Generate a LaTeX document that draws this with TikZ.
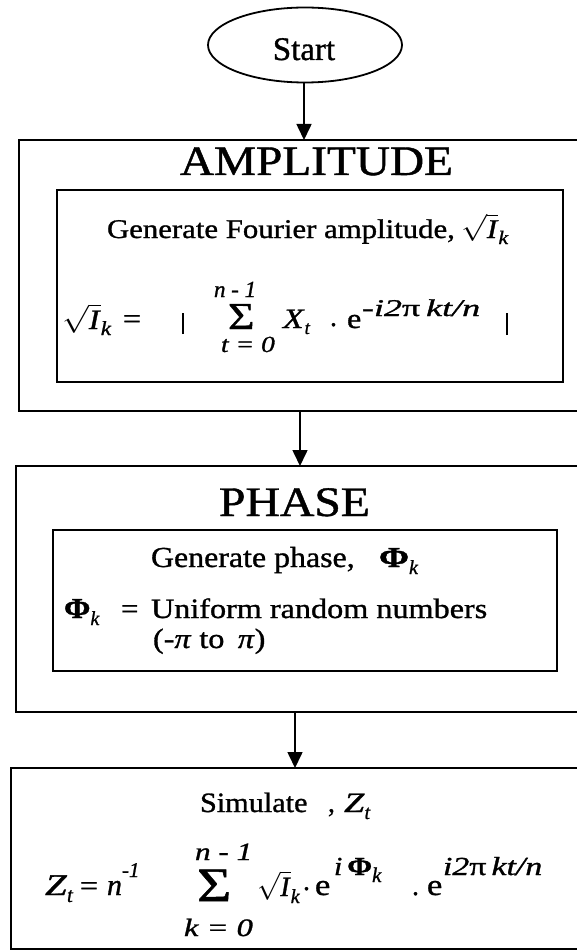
\RequirePackage{fix-cm}
\documentclass[tikz,border=0pt]{standalone}
\usepackage{fontspec}
\setmainfont{Liberation Serif}[FakeBold=1]
\usetikzlibrary{arrows.meta,shapes.geometric}
\newcommand{\fs}[1]{\fontsize{#1}{#1}\selectfont}
\newcommand{\xs}[2]{\scalebox{#1}[1]{#2}}
\newcommand{\rootI}[2]{$\sqrt{\hbox{\textit{I}}}$\raisebox{-#2}{\fs{#1}\textit{k}}}
\newcommand{\SIG}{\symbol{"03A3}}
\begin{document}
\begin{tikzpicture}[x=1pt,y=-1pt,
  frame/.style={draw, line width=1.8pt, rectangle, inner sep=0pt, outer sep=0pt},
  oval/.style={draw, line width=1.8pt, ellipse, inner sep=0pt, outer sep=0pt},
  arr/.style={line width=1.6pt, -{Triangle[length=16pt,width=15pt]}},
  txt/.style={anchor=base west, inner sep=0pt, outer sep=0pt}]
\useasboundingbox (0,0) rectangle (577,952);
\fill[white] (0,0) rectangle (577,952);
\clip (0,0) rectangle (577,952);

% start
\node[oval, minimum width=194pt, minimum height=75pt] (start) at (305,45) {};
\node[txt, anchor=base] (starttxt) at (304,60) {\fs{33}Start};

% boxes
\node[frame, minimum width=601pt, minimum height=271pt] (ampout) at (319.5,275.5) {};
\node[frame, minimum width=506pt, minimum height=192pt] (ampin) at (310,286) {};
\node[frame, minimum width=604pt, minimum height=246pt] (phaseout) at (318,589) {};
\node[frame, minimum width=504pt, minimum height=141pt] (phasein) at (305,600.5) {};
\node[frame, minimum width=609pt, minimum height=181pt] (simout) at (315.5,858.5) {};

% connectors
\coordinate (c1) at (304,0);
\coordinate (c2) at (300,0);
\coordinate (c3) at (295,0);
\draw[arr] (c1 |- start.south) -- (c1 |- ampout.north);
\draw[arr] (c2 |- ampout.south) -- (c2 |- phaseout.north);
\draw[arr] (c3 |- phaseout.south) -- (c3 |- simout.north);

% amplitude
\node[txt] (amptitle) at (180,175) {\fs{42}\xs{1.125}{AMPLITUDE}};
\node[txt] (genamp) at (107,238) {\fs{27}\xs{1.14}{Generate Fourier amplitude,}};
\node[txt] (genampI) at (461,238) {\fs{27}\xs{1.15}{\rootI{19}{6pt}}};

\node[txt] (f1lhs) at (62,329) {\fs{28}\xs{1.15}{\rootI{20}{6pt}}};
\node[txt] (f1eq) at (123,328) {\fs{28}\xs{1.15}{=}};
\node[txt] (f1bl) at (182,334) {\rule{1.7pt}{21pt}};
\node[txt] (f1sum) at (228,329) {\fs{38}\xs{1.2}{\SIG}};
\node[txt] (f1up) at (214,297) {\fs{23}\textit{n - 1}};
\node[txt] (f1lo) at (221,352) {\fs{23}\xs{1.2}{\textit{t = 0}}};
\node[txt] (f1X) at (283,328) {\fs{28}\xs{1.2}{\textit{X}}\raisebox{-6pt}{\fs{19}\textit{t}}};
\node[txt] (f1dot) at (330,326) {\fs{28}.};
\node[txt] (f1e) at (347,328) {\fs{28}\xs{1.15}{e}};
\node[txt] (f1sup) at (362,316) {\fs{24}\xs{1.5}{-\textit{i2}π\hspace{4pt}\textit{kt/n}}};
\node[txt] (f1br) at (506,335) {\rule{1.7pt}{22pt}};

% phase
\node[txt] (phtitle) at (219,516) {\fs{42}\xs{1.135}{PHASE}};
\node[txt] (genph) at (151,567) {\fs{29}\xs{1.1}{Generate phase,}};
\node[txt] (genphi) at (379,567) {\fs{29}\xs{1.25}{\textbf{Φ}}\raisebox{-7pt}{\fs{20}\textit{k}}};
\node[txt] (phphi) at (64,618) {\fs{29}\xs{1.1}{\textbf{Φ}}\raisebox{-7pt}{\fs{20}\textit{k}}};
\node[txt] (pheq) at (121,618) {\fs{28}\xs{1.1}{=}};
\node[txt] (phuni) at (151,618) {\fs{28}\xs{1.15}{Uniform random numbers}};
\node[txt] (phrange) at (153,648) {\fs{28}\xs{1.15}{(-\textit{π} to \,\textit{π})}};

% simulate
\node[txt] (simtxt) at (200,812) {\fs{28}\xs{1.08}{Simulate}};
\node[txt] (simcomma) at (328,812) {\fs{28},};
\node[txt] (simZ) at (344,812) {\fs{28}\xs{1.3}{\textit{Z}}\raisebox{-7pt}{\fs{20}\textit{t}}};

\node[txt] (f3Z) at (45,895) {\fs{30}\xs{1.3}{\textit{Z}}\raisebox{-7pt}{\fs{21}\textit{t}}};
\node[txt] (f3eq) at (80,895) {\fs{28}\xs{1.15}{=}};
\node[txt] (f3n) at (107,895) {\fs{30}\textit{n}\raisebox{18pt}{\fs{21}\textit{-1}}};
\node[txt] (f3sum) at (197,901) {\fs{48}\xs{1.23}{\SIG}};
\node[txt] (f3up) at (195,860) {\fs{25}\xs{1.25}{\textit{n - 1}}};
\node[txt] (f3lo) at (184,936) {\fs{25}\xs{1.3}{\textit{k = 0}}};
\node[txt] (f3rt) at (257,896) {\fs{28}\rootI{20}{7pt}};
\node[txt] (f3dot1) at (303,890) {\fs{28}.};
\node[txt] (f3e1) at (315,895) {\fs{30}\xs{1.15}{e}};
\node[txt] (f3sup1) at (334,875) {\fs{26}\xs{1.15}{\textit{i}\,\textbf{Φ}}\raisebox{-7pt}{\fs{21}\textit{k}}};
\node[txt] (f3dot2) at (412,895) {\fs{28}.};
\node[txt] (f3e2) at (427,895) {\fs{30}\xs{1.15}{e}};
\node[txt] (f3sup2) at (443,875) {\fs{26}\xs{1.3}{\textit{i2}π\hspace{4pt}\textit{kt/n}}};
\end{tikzpicture}
\end{document}
